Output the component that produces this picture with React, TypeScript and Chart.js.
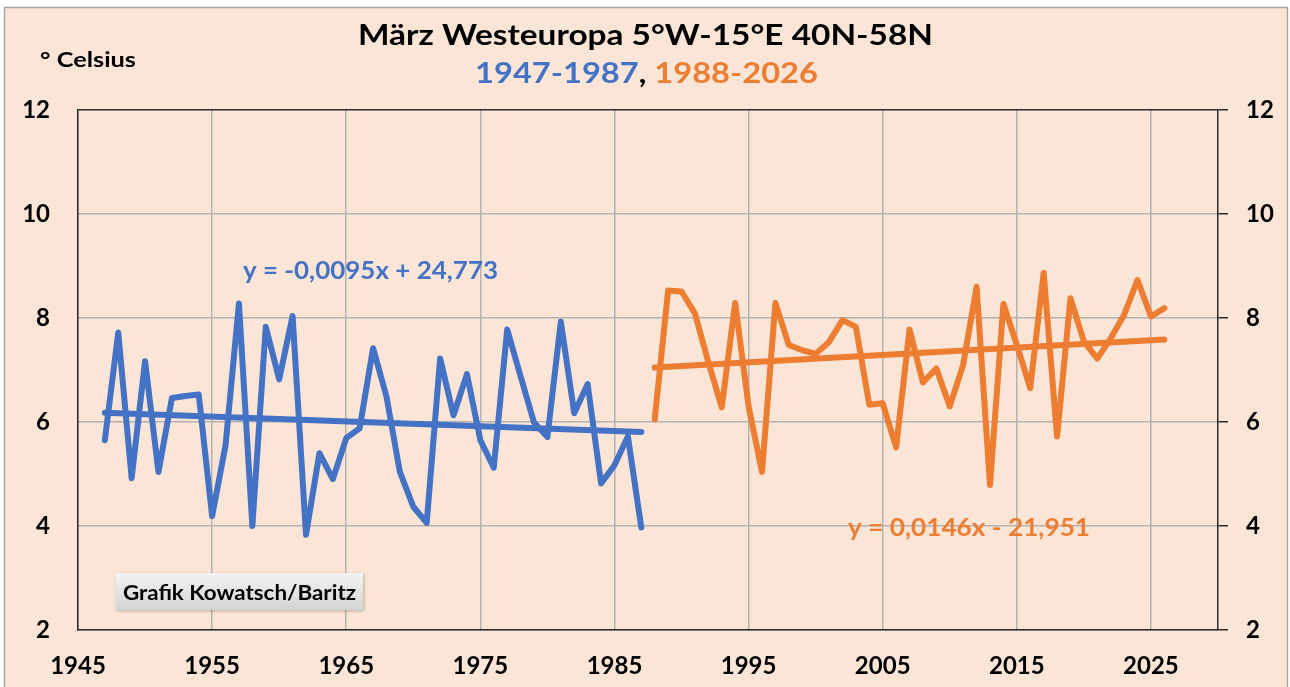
import { useEffect, useRef } from "react";
import { Chart, registerables } from "chart.js";

Chart.register(...registerables);

const TITLE = "März Westeuropa 5°W-15°E 40N-58N";
const SUB_A = "1947-1987";
const SUB_SEP = ", ";
const SUB_B = "1988-2026";
const Y_UNIT = "° Celsius";
const EQ_A = "y = -0,0095x + 24,773";
const EQ_B = "y = 0,0146x - 21,951";
const CREDIT = "Grafik Kowatsch/Baritz";

const START_A = 1947;
const TEMPS_A = [
  5.65, 7.72, 4.92, 7.17, 5.04, 6.46, 6.5, 6.53, 4.19, 5.55,
  8.28, 4.0, 7.83, 6.82, 8.04, 3.83, 5.4, 4.9, 5.69, 5.88,
  7.42, 6.49, 5.04, 4.37, 4.06, 7.22, 6.13, 6.92, 5.65, 5.12,
  7.78, 6.88, 5.99, 5.71, 7.93, 6.17, 6.73, 4.82, 5.17, 5.72,
  3.97,
];
const START_B = 1988;
const TEMPS_B = [
  6.05, 8.53, 8.51, 8.09, 7.15, 6.28, 8.29, 6.3, 5.04, 8.29,
  7.48, 7.38, 7.31, 7.54, 7.96, 7.83, 6.33, 6.36, 5.51, 7.78,
  6.76, 7.03, 6.3, 7.1, 8.6, 4.79, 8.27, 7.48, 6.65, 8.87,
  5.72, 8.38, 7.55, 7.22, 7.61, 8.06, 8.73, 8.03, 8.19,
];

const X_TICKS = [1945, 1955, 1965, 1975, 1985, 1995, 2005, 2015, 2025];
const X_MIN = 1945;
const X_MAX = 2030;
const Y_MIN = 2;
const Y_MAX = 12;
const Y_STEP = 2;

const BLUE = "#4472C4";
const ORANGE = "#ED7D31";
const BG = "#FBE5D6";
const GRID = "#B4B1AE";
const AXIS = "#2b2b2b";
const FONT = "Lato, 'Open Sans', sans-serif";

function toPoints(start: number, vals: number[]) {
  return vals.map((v, i) => ({ x: start + i, y: v }));
}

function trend(start: number, vals: number[]) {
  const n = vals.length;
  const xs = vals.map((_, i) => start + i);
  const mx = xs.reduce((a, b) => a + b, 0) / n;
  const my = vals.reduce((a, b) => a + b, 0) / n;
  let sxy = 0;
  let sxx = 0;
  for (let i = 0; i < n; i++) {
    sxy += (xs[i] - mx) * (vals[i] - my);
    sxx += (xs[i] - mx) * (xs[i] - mx);
  }
  const m = sxy / sxx;
  const b = my - m * mx;
  const x0 = xs[0];
  const x1 = xs[n - 1];
  return [
    { x: x0, y: m * x0 + b },
    { x: x1, y: m * x1 + b },
  ];
}

// draw text starting at x (left), stretched horizontally to the given width
function stretchText(ctx: CanvasRenderingContext2D, text: string, x: number, y: number, w: number) {
  const natural = ctx.measureText(text).width;
  const k = w / natural;
  ctx.save();
  ctx.translate(x, y);
  ctx.scale(k, 1);
  ctx.textAlign = "left";
  ctx.fillText(text, 0, 0);
  ctx.restore();
  return k;
}

const decoPlugin = {
  id: "deco",
  beforeDraw(chart: any) {
    const { ctx, width, height } = chart;
    ctx.save();
    ctx.fillStyle = "#ffffff";
    ctx.fillRect(0, 0, width, height);
    ctx.fillStyle = BG;
    ctx.fillRect(4, 7, 1284, height);
    ctx.strokeStyle = "#A6A6A6";
    ctx.lineWidth = 1.5;
    ctx.strokeRect(4.5, 7.5, 1283, height + 10);
    ctx.restore();
  },
  afterDraw(chart: any) {
    const { ctx } = chart;
    ctx.save();
    ctx.textBaseline = "alphabetic";
    // Title
    ctx.font = `bold 28px ${FONT}`;
    ctx.fillStyle = "#000";
    stretchText(ctx, TITLE, 358, 45, 575);
    // Subtitle
    const wA = ctx.measureText(SUB_A).width;
    const wS = ctx.measureText(SUB_SEP).width;
    const wB = ctx.measureText(SUB_B).width;
    const k = 343 / (wA + wS + wB);
    ctx.save();
    ctx.translate(475, 83);
    ctx.scale(k, 1);
    ctx.textAlign = "left";
    ctx.fillStyle = BLUE;
    ctx.fillText(SUB_A, 0, 0);
    ctx.fillStyle = "#000";
    ctx.fillText(SUB_SEP, wA, 0);
    ctx.fillStyle = ORANGE;
    ctx.fillText(SUB_B, wA + wS, 0);
    ctx.restore();
    // Unit
    ctx.font = `bold 21px ${FONT}`;
    ctx.fillStyle = "#000";
    stretchText(ctx, Y_UNIT, 40, 67, 96);
    // Equations
    ctx.font = `bold 24px ${FONT}`;
    ctx.fillStyle = BLUE;
    stretchText(ctx, EQ_A, 243, 279, 255);
    ctx.fillStyle = ORANGE;
    stretchText(ctx, EQ_B, 848, 536, 242);
    // Credit box
    const bx = 116, by = 573, bw = 247, bh = 37;
    ctx.save();
    ctx.shadowColor = "rgba(0,0,0,0.25)";
    ctx.shadowBlur = 3;
    ctx.shadowOffsetX = 1;
    ctx.shadowOffsetY = 1;
    const g = ctx.createLinearGradient(0, by, 0, by + bh);
    g.addColorStop(0, "#F4F4F4");
    g.addColorStop(1, "#D4D4D4");
    ctx.fillStyle = g;
    ctx.fillRect(bx, by, bw, bh);
    ctx.restore();
    ctx.font = `bold 20px ${FONT}`;
    ctx.fillStyle = "#000";
    stretchText(ctx, CREDIT, 123, 600, 233);
    ctx.restore();
  },
};

export default function App() {
  const ref = useRef<HTMLCanvasElement | null>(null);
  useEffect(() => {
    document.body.style.margin = "0";
    const canvas = ref.current;
    if (!canvas) return;
    const tickFont = { family: FONT, weight: "bold" as const, size: 24 };
    const lineDs = (data: any, color: string) => ({
      data,
      borderColor: color,
      borderWidth: 6,
      pointRadius: 0,
      tension: 0,
      borderJoinStyle: "round" as const,
      borderCapStyle: "round" as const,
      yAxisID: "y",
    });
    const chart = new Chart(canvas, {
      type: "line",
      data: {
        datasets: [
          lineDs(toPoints(START_A, TEMPS_A), BLUE),
          lineDs(toPoints(START_B, TEMPS_B), ORANGE),
          lineDs(trend(START_A, TEMPS_A), BLUE),
          lineDs(trend(START_B, TEMPS_B), ORANGE),
        ],
      },
      options: {
        responsive: false,
        animation: false,
        parsing: false as any,
        layout: { padding: { top: 110, left: 0, right: 0, bottom: 0 } },
        plugins: {
          legend: { display: false },
          tooltip: { enabled: false },
          title: { display: false },
        },
        scales: {
          x: {
            type: "linear",
            min: X_MIN,
            max: X_MAX,
            afterBuildTicks: (s: any) => {
              s.ticks = X_TICKS.map((v) => ({ value: v }));
            },
            afterFit: (s: any) => {
              s.height = 57;
            },
            grid: { color: GRID, lineWidth: 1.5, drawTicks: false },
            border: { color: AXIS, width: 1.5 },
            ticks: {
              font: tickFont,
              color: "#000",
              padding: 22,
              maxRotation: 0,
              autoSkip: false,
              callback: (v: any) => String(v),
            },
          },
          y: {
            position: "left",
            min: Y_MIN,
            max: Y_MAX,
            afterFit: (s: any) => {
              s.width = 78;
            },
            grid: {
              color: (c: any) => (c.tick && c.tick.value === Y_MAX ? AXIS : GRID),
              lineWidth: 1.5,
              drawTicks: false,
            },
            border: { color: AXIS, width: 1.5 },
            ticks: { stepSize: Y_STEP, font: tickFont, color: "#000", padding: 28 },
          },
          y2: {
            position: "right",
            min: Y_MIN,
            max: Y_MAX,
            afterFit: (s: any) => {
              s.width = 72;
            },
            grid: { drawOnChartArea: false, drawTicks: true, tickLength: 10, color: AXIS, lineWidth: 1.5 },
            border: { color: AXIS, width: 1.5 },
            ticks: { stepSize: Y_STEP, font: tickFont, color: "#000", padding: 18 },
          },
        },
      },
      plugins: [decoPlugin],
    });
    return () => chart.destroy();
  }, []);
  return <canvas ref={ref} width={1290} height={687} style={{ display: "block" }} />;
}
